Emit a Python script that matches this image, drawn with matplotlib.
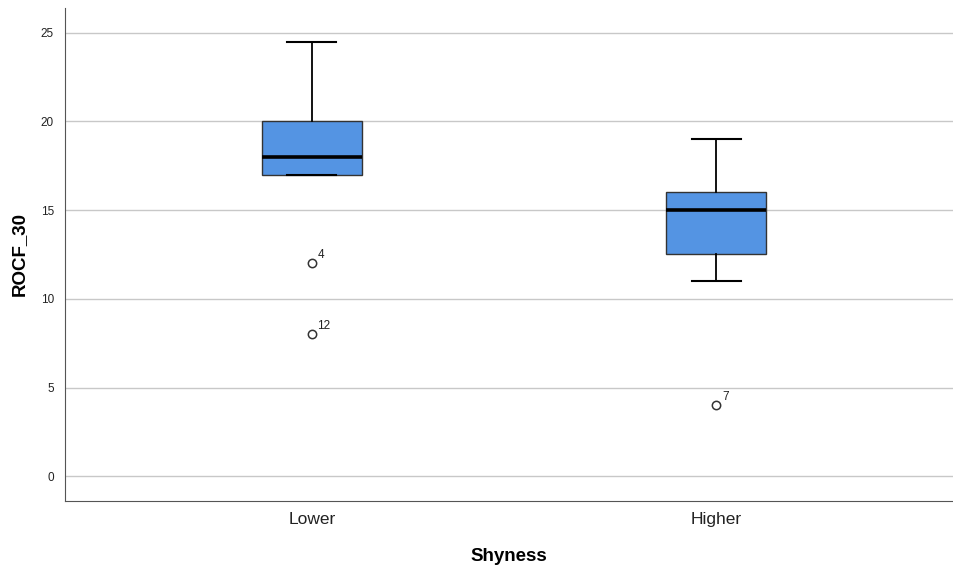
import matplotlib.pyplot as plt

plt.rcParams['font.family'] = ['Liberation Sans', 'DejaVu Sans']

# data
groups = ['Lower', 'Higher']
whislo = [17, 11]
q1 = [17, 12.5]
med = [18, 15]
q3 = [20, 16]
whishi = [24.5, 19]
outliers = [[12, 8], [4]]
outlier_ids = [['4', '12'], ['7']]

box_color = '#5494E3'

fig = plt.figure(figsize=(9.54, 5.69), dpi=100)
ax = fig.add_axes([65/954, 68/569, 888/954, 493/569])

stats = []
for i in range(len(groups)):
    stats.append({'whislo': whislo[i], 'q1': q1[i], 'med': med[i], 'q3': q3[i],
                  'whishi': whishi[i], 'fliers': outliers[i], 'label': groups[i]})

ax.bxp(stats, positions=range(len(groups)), widths=0.247, patch_artist=True,
       boxprops=dict(facecolor=box_color, edgecolor='#333333', linewidth=1),
       medianprops=dict(color='black', linewidth=2.6),
       whiskerprops=dict(color='black', linewidth=1.3),
       capprops=dict(color='black', linewidth=1.5),
       capwidths=0.122,
       flierprops=dict(marker='o', markerfacecolor='white', markeredgecolor='#333333',
                       markersize=6, markeredgewidth=1.1))

for i in range(len(groups)):
    for v, lab in zip(outliers[i], outlier_ids[i]):
        ax.annotate(lab, (i, v), xytext=(4, 4), textcoords='offset points',
                    fontsize=8.5, color='#222222')

ax.set_xlim(-0.61, 1.585)
ax.set_ylim(-1.4, 26.4)
ax.set_yticks([0, 5, 10, 15, 20, 25])
ax.yaxis.grid(True, color='#C8C8C8', linewidth=1)
ax.set_axisbelow(True)
for s in ['top', 'right']:
    ax.spines[s].set_visible(False)
for s in ['left', 'bottom']:
    ax.spines[s].set_color('#555555')
ax.tick_params(axis='x', length=0, labelsize=12.5, colors='#222222', pad=8)
ax.tick_params(axis='y', length=0, labelsize=8.5, colors='#222222', pad=8)
ax.set_xlabel('Shyness', fontsize=13.5, fontweight='bold', labelpad=15)
ax.set_ylabel('ROCF_30', fontsize=13.5, fontweight='bold', labelpad=9)

fig.savefig('out.png', dpi=100)
